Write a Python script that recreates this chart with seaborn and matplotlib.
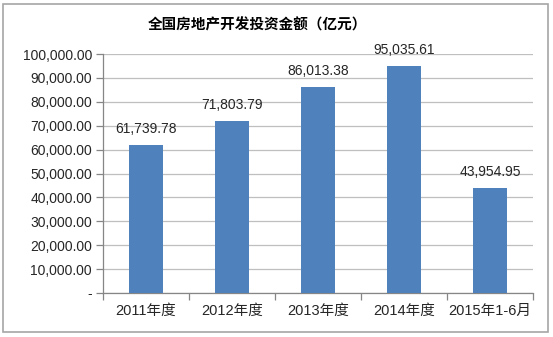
import matplotlib
matplotlib.use("Agg")
import matplotlib.pyplot as plt
import seaborn as sns
import numpy as np
from matplotlib.patches import Rectangle
from matplotlib.ticker import FuncFormatter, FixedLocator

categories = ["2011年度", "2012年度", "2013年度", "2014年度", "2015年1-6月"]
values = [61739.78, 71803.79, 86013.38, 95035.61, 43954.95]
title = "全国房地产开发投资金额（亿元）"

sns.set_theme(style="white")
plt.rcParams['font.family'] = ['Liberation Sans', 'Noto Sans CJK SC', 'DejaVu Sans']

fig = plt.figure(figsize=(5.53, 3.37), dpi=100)
ax = fig.add_axes([103/553, 1-293/337, (533-103)/553, (293-54)/337])

sns.barplot(x=categories, y=values, color='#4F81BD', width=0.4, saturation=1,
            ax=ax, zorder=3)
for p in ax.patches:
    p.set_edgecolor('none')

ax.set_xlim(-0.5, len(categories) - 0.5)
ax.set_ylim(0, 100000)
ax.set_yticks(np.arange(0, 100001, 10000))
ax.yaxis.set_major_formatter(FuncFormatter(lambda v, p: '-' if v == 0 else f"{v:,.2f}"))
ax.grid(axis='y', color='#BFBFBF', linewidth=0.9, zorder=0)
ax.set_axisbelow(True)

for s in ['top', 'right']:
    ax.spines[s].set_visible(False)
for s in ['left', 'bottom']:
    ax.spines[s].set_color('#868686')
    ax.spines[s].set_linewidth(0.9)

ax.tick_params(axis='y', which='major', length=5, width=0.9, color='#868686',
               labelsize=10, labelcolor='#262626', pad=3, left=True)
ax.tick_params(axis='x', which='major', length=0, labelsize=10.5, labelcolor='#262626', pad=8)
ax.xaxis.set_minor_locator(FixedLocator(np.arange(-0.5, len(categories), 1.0)))
ax.tick_params(axis='x', which='minor', length=5, width=0.9, color='#868686', bottom=True)
ax.set_xlabel('')
ax.set_ylabel('')

for i, v in enumerate(values):
    ax.annotate(f"{v:,.2f}", xy=(i, v), xytext=(0, 11.5), textcoords='offset points',
                ha='center', va='center', fontsize=10, color='#262626')

fig.text(257.5/553, 1-25/337, title, ha='center', va='center', fontsize=10.5,
         fontweight='bold', color='#000000')

fig.patches.append(Rectangle((3/553, 1-332/337), 545/553, 328/337, transform=fig.transFigure,
                             fill=False, edgecolor='#A6A6A6', linewidth=1.2))

fig.savefig("out.png", dpi=100)
